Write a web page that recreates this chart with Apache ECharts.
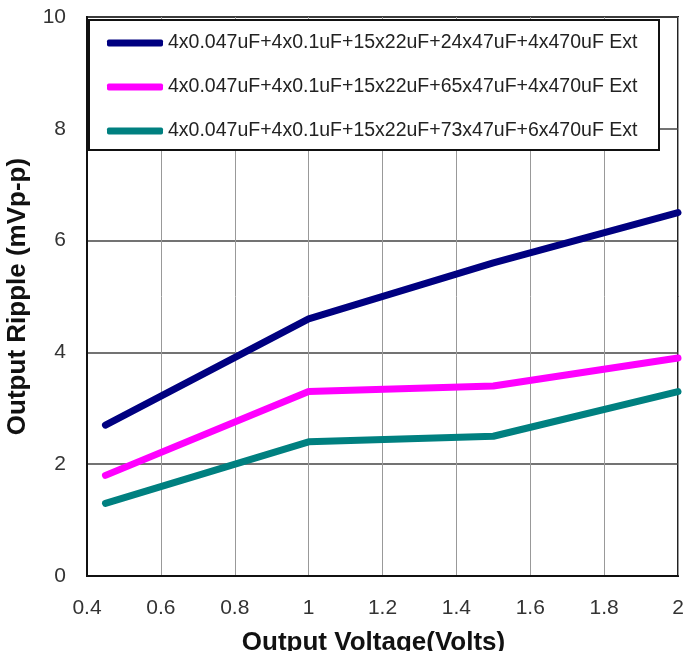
<!DOCTYPE html>
<html>
<head>
<meta charset="utf-8">
<script src="https://cdn.jsdelivr.net/npm/echarts@6/dist/echarts.min.js"></script>
<style>
  html, body { margin: 0; padding: 0; background: #fff; }
  #chart { width: 686px; height: 651px; }
</style>
</head>
<body>
<div id="chart"></div>
<script>
const xValues = [0.45, 1.0, 1.5, 2.0];
const seriesNames = [
  '4x0.047uF+4x0.1uF+15x22uF+24x47uF+4x470uF Ext',
  '4x0.047uF+4x0.1uF+15x22uF+65x47uF+4x470uF Ext',
  '4x0.047uF+4x0.1uF+15x22uF+73x47uF+6x470uF Ext'
];
const ripple24x47 = [2.7, 4.6, 5.6, 6.5];
const ripple65x47 = [1.8, 3.3, 3.4, 3.9];
const ripple73x47 = [1.3, 2.4, 2.5, 3.3];
const seriesColors = ['#000080', '#FF00FF', '#008080'];

const allValues = [ripple24x47, ripple65x47, ripple73x47];
const font = '"Liberation Sans", Arial, sans-serif';

const chart = echarts.init(document.getElementById('chart'), null, { renderer: 'canvas' });
chart.setOption({
  backgroundColor: '#fff',
  animation: false,
  textStyle: { fontFamily: font },
  grid: {
    left: 87, right: 8, top: 17, bottom: 75,
    containLabel: false, outerBoundsMode: 'none',
    show: true, borderColor: '#222', borderWidth: 2, backgroundColor: 'transparent'
  },
  graphic: [{
    type: 'rect', left: 88, top: 19, z: 3,
    shape: { width: 570, height: 130 },
    style: { fill: '#fff', stroke: '#111', lineWidth: 2 }
  }],
  legend: {
    orient: 'vertical', left: 88, top: 19, z: 10,
    padding: [14, 21, 12, 19],
    itemGap: 24, itemWidth: 56, itemHeight: 7, itemTextGap: 5,
    icon: 'roundRect',
    textStyle: { fontFamily: font, fontSize: 19.5, color: '#222' },
    data: seriesNames
  },
  xAxis: {
    type: 'value', min: 0.4, max: 2, interval: 0.2,
    name: 'Output Voltage(Volts)', nameLocation: 'middle', nameGap: 54,
    nameTextStyle: { fontFamily: font, fontSize: 26, fontWeight: 'bold', color: '#111', padding: [0, 18, 0, 0] },
    axisLine: { show: true, lineStyle: { color: '#111', width: 2 } },
    axisTick: { show: false },
    axisLabel: { fontFamily: font, fontSize: 21, color: '#333', margin: 22 },
    splitLine: { show: true, lineStyle: { color: '#999', width: 1 } }
  },
  yAxis: {
    type: 'value', min: 0, max: 10, interval: 2,
    name: 'Output Ripple (mVp-p)', nameLocation: 'middle', nameGap: 56,
    nameTextStyle: { fontFamily: font, fontSize: 26, fontWeight: 'bold', color: '#111' },
    axisLine: { show: true, lineStyle: { color: '#111', width: 2 } },
    axisTick: { show: false },
    axisLabel: { fontFamily: font, fontSize: 21, color: '#333', margin: 21 },
    splitLine: { show: true, lineStyle: { color: '#444', width: 1.5 } }
  },
  series: seriesNames.map((name, i) => ({
    name: name,
    type: 'line',
    symbol: 'none',
    z: 2,
    color: seriesColors[i],
    lineStyle: { width: 7, color: seriesColors[i], cap: 'round', join: 'round' },
    data: xValues.map((x, j) => [x, allValues[i][j]])
  }))
});
</script>
</body>
</html>
